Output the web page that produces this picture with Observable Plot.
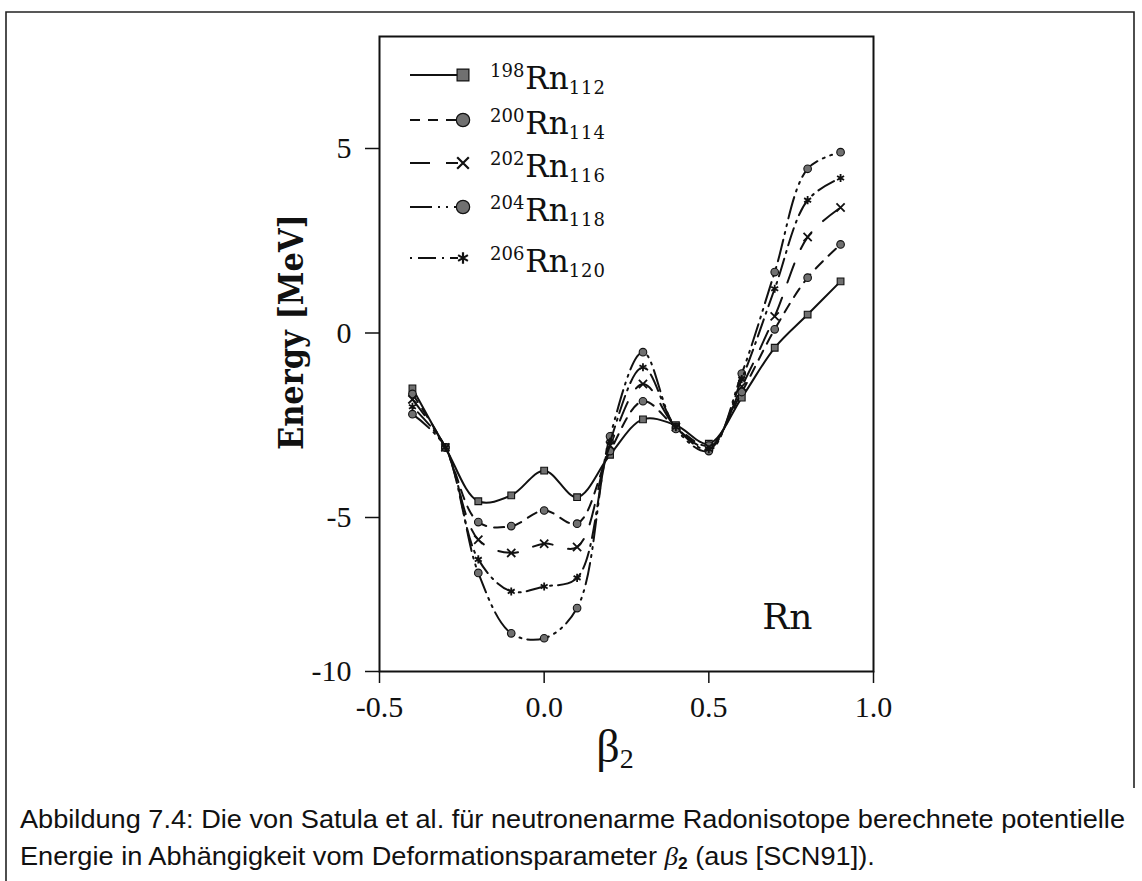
<!DOCTYPE html>
<html><head><meta charset="utf-8">
<script src="https://cdn.jsdelivr.net/npm/d3@7"></script>
<script src="https://cdn.jsdelivr.net/npm/@observablehq/plot@0.6"></script>
<style>
html,body{margin:0;padding:0;background:#fff;}
#wrap{position:relative;width:1142px;height:881px;overflow:hidden;background:#fff;}
#wrap svg{position:absolute;left:0;top:0;}
</style></head><body><div id="wrap"></div>
<script>
// ---- data ----
const beta2 = [-0.4, -0.3, -0.2, -0.1, 0.0, 0.1, 0.2, 0.3, 0.4, 0.5, 0.6, 0.7, 0.8, 0.9];
const rn198 = [-1.50, -3.10, -4.56, -4.40, -3.73, -4.45, -3.30, -2.34, -2.50, -3.00, -1.75, -0.40, 0.50, 1.40];
const rn200 = [-1.65, -3.10, -5.15, -5.28, -4.81, -5.20, -3.20, -1.85, -2.55, -3.05, -1.60, 0.10, 1.50, 2.40];
const rn202 = [-1.80, -3.10, -5.72, -6.15, -5.85, -5.96, -3.05, -1.38, -2.55, -3.10, -1.45, 0.45, 2.60, 3.40];
const rn204 = [-2.20, -3.10, -6.80, -8.76, -8.92, -7.94, -2.80, -0.52, -2.60, -3.20, -1.10, 1.65, 4.45, 4.90];
const rn206 = [-2.00, -3.10, -6.36, -7.40, -7.24, -6.96, -2.95, -0.93, -2.55, -3.15, -1.25, 1.20, 3.60, 4.20];
const massNumbers = ["198", "200", "202", "204", "206"];
const neutronNumbers = ["112", "114", "116", "118", "120"];
const seriesValues = [rn198, rn200, rn202, rn204, rn206];
const xTicks = [-0.5, 0.0, 0.5, 1.0];
const yTicks = [-10, -5, 0, 5];
const xLabelMain = "β";
const xLabelSub = "2";
const yLabel = "Energy [MeV]";
const elementLabel = "Rn";
const captionLine1 = "Abbildung 7.4: Die von Satula et al. für neutronenarme Radonisotope berechnete potentielle";
const captionLine2a = "Energie in Abhängigkeit vom Deformationsparameter ";
const captionLine2b = " (aus [SCN91]).";

// ---- styles ----
const dashes = [null, "10,8", "20,16", "22,6,2,6,2,6", "2,6,18,6"];
const symbols = ["square", "circle", "times", "circle", "asterisk"];
const INK = "#111";
const MARK_FILL = "#707070";

const series = massNumbers.map((m, i) => ({
  m, n: neutronNumbers[i], dash: dashes[i], symbol: symbols[i],
  rows: beta2.map((b, j) => ({beta: b, e: seriesValues[i][j]}))
}));

const W = 1142, H = 881;
const L = 379, R = 873, T = 36, B = 671;
// the printed axis is compressed below -5 (scan geometry): warp the y scale accordingly
const lowerK = 30.8 / 36.9;
const yWarp = v => v >= -5 ? v : -5 + (v + 5) * lowerK;
const yUnwarp = v => v >= -5 ? v : -5 + (v + 5) / lowerK;

const marks = [];
for (const s of series) {
  const lineOpts = {x: "beta", y: "e", curve: "catmull-rom", stroke: INK, strokeWidth: 2};
  if (s.dash) lineOpts.strokeDasharray = s.dash;
  marks.push(Plot.line(s.rows, lineOpts));
  const stroked = s.symbol === "times" || s.symbol === "asterisk";
  marks.push(Plot.dot(s.rows, {
    x: "beta", y: "e", symbol: s.symbol, r: 3.8,
    fill: stroked ? "none" : MARK_FILL, stroke: INK, strokeWidth: stroked ? 1.8 : 1.1
  }));
}
marks.push(
  Plot.axisY({ticks: yTicks.map(yWarp), tickSize: 14, tickPadding: 14,
    tickFormat: d => String(Math.round(yUnwarp(d))), label: null,
    fontSize: 30, fontFamily: "Liberation Serif", strokeWidth: 1.5}),
  Plot.axisX({ticks: xTicks, tickSize: 12, tickPadding: 12, tickFormat: d => d.toFixed(1), label: null,
    fontSize: 30, fontFamily: "Liberation Serif", strokeWidth: 1.5}),
  Plot.frame({stroke: INK, strokeWidth: 2}),
  Plot.text([elementLabel], {text: d => d, frameAnchor: "bottom-right", dx: -61, dy: -43,
    fontSize: 36, fontFamily: "DejaVu Serif", fill: INK})
);

const chart = Plot.plot({
  width: W, height: H,
  marginLeft: L, marginRight: W - R, marginTop: T, marginBottom: H - B,
  x: {domain: [-0.5, 1.0]},
  y: {transform: yWarp, domain: [yWarp(-10), -5 + (517 - T) / 36.9]},
  style: {background: "white", color: INK, fontFamily: "Liberation Serif", fontSize: "30px"},
  marks
});
const wrap = document.getElementById("wrap");
wrap.appendChild(chart);

// ---- overlay: page frame, labels, legend, caption ----
const svg = d3.select(wrap).append("svg").attr("width", W).attr("height", H)
  .style("pointer-events", "none");

svg.append("path").attr("d", `M6,${H} L6,12 L1134,12 L1134,788`)
  .attr("fill", "none").attr("stroke", "#222").attr("stroke-width", 1.6);

svg.append("text")
  .attr("transform", `translate(303,332) rotate(-90)`)
  .attr("text-anchor", "middle")
  .attr("font-family", "DejaVu Serif").attr("font-size", 33).attr("font-weight", "bold")
  .attr("textLength", 236).attr("lengthAdjust", "spacingAndGlyphs")
  .attr("fill", INK).text(yLabel);

const xl = svg.append("text").attr("x", 615).attr("y", 762)
  .attr("text-anchor", "middle").attr("font-family", "Liberation Serif").attr("fill", INK);
xl.append("tspan").attr("font-size", 46).text(xLabelMain);
xl.append("tspan").attr("font-size", 28).attr("dy", 6).text(xLabelSub);

const rowY = [75, 120, 163, 207, 258];
series.forEach((s, i) => {
  const y = rowY[i];
  const g = svg.append("g");
  const ln = g.append("line").attr("x1", 410).attr("x2", 458).attr("y1", y).attr("y2", y)
    .attr("stroke", INK).attr("stroke-width", 2);
  if (s.dash) ln.attr("stroke-dasharray", s.dash);
  const symMap = {square: d3.symbolSquare, circle: d3.symbolCircle, times: d3.symbolTimes, asterisk: d3.symbolAsterisk};
  const stroked = s.symbol === "times" || s.symbol === "asterisk";
  g.append("path").attr("transform", `translate(463,${y})`)
    .attr("d", d3.symbol(symMap[s.symbol], stroked ? 90 : 140)())
    .attr("fill", stroked ? "none" : MARK_FILL).attr("stroke", INK).attr("stroke-width", stroked ? 2.2 : 1.2);
  const t = g.append("text").attr("x", 490).attr("y", y + 14).attr("font-family", "DejaVu Serif").attr("fill", INK);
  t.append("tspan").attr("font-size", 18).attr("dy", -12).text(s.m);
  t.append("tspan").attr("font-size", 31).attr("dy", 12).attr("dx", 1).text("Rn");
  t.append("tspan").attr("font-size", 18).attr("dy", 5).attr("letter-spacing", 1).text(s.n);
});

const cap1 = svg.append("text").attr("x", 20).attr("y", 828)
  .attr("font-family", "Liberation Sans").attr("font-size", 25).attr("fill", INK).text(captionLine1);
const natural1 = cap1.node().getComputedTextLength();
const target1 = 1105;
cap1.attr("textLength", target1).attr("lengthAdjust", "spacingAndGlyphs");
const ratio = target1 / natural1;
const cap2 = svg.append("text").attr("x", 20).attr("y", 865)
  .attr("font-family", "Liberation Sans").attr("font-size", 25).attr("fill", INK);
cap2.append("tspan").text(captionLine2a);
cap2.append("tspan").attr("font-style", "italic").attr("font-family", "Liberation Serif").text(xLabelMain);
cap2.append("tspan").attr("font-size", 16).attr("font-weight", "bold").attr("dy", 4).text(xLabelSub);
cap2.append("tspan").attr("dy", -4).text(captionLine2b);
const natural2 = cap2.node().getComputedTextLength();
cap2.attr("textLength", natural2 * ratio).attr("lengthAdjust", "spacingAndGlyphs");
</script>
</body></html>
